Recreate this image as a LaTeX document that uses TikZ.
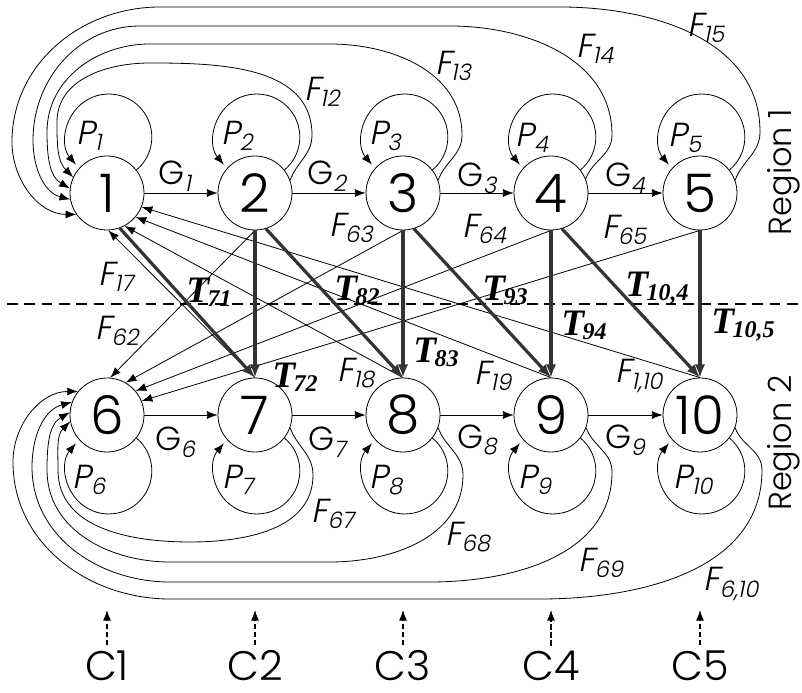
\documentclass[tikz,border=0pt]{standalone}
\usepackage{fontspec}
\usepackage{tikz}
\usetikzlibrary{arrows.meta}
\newfontfamily\numfont{Poppins Light}
\newfontfamily\labfont[FakeSlant=0.2]{Poppins Light}
\newfontfamily\tfont{Liberation Serif}

% labels: letter with a lowered, smaller index
\newcommand{\flab}[2]{{\labfont\fontsize{25}{25}\selectfont #1\kern-0.5pt\raisebox{-5pt}{\fontsize{17}{17}\selectfont #2}}}
\newcommand{\glab}[1]{{\numfont\fontsize{25}{25}\selectfont G\kern-0.5pt\raisebox{-5pt}{\labfont\fontsize{17}{17}\selectfont #1}}}
\newcommand{\tlab}[1]{{\tfont\bfseries\itshape\fontsize{28}{28}\selectfont T\kern-1pt\raisebox{-3pt}{\fontsize{18}{18}\selectfont #1}}}

\tikzset{
  state/.style={circle, draw, line width=0.6pt, minimum size=55.5pt, inner sep=0pt,
    font=\numfont\fontsize{40}{40}\selectfont},
  farrow/.style={line width=0.6pt, -{Latex[length=8pt,width=6pt]}},
  tarrow/.style={line width=2.4pt, draw=black!80, -{Latex[length=10pt,width=8pt]}},
  carrow/.style={line width=0.8pt, dash pattern=on 4pt off 2pt, -{Latex[length=8pt,width=6pt]}},
  divider/.style={line width=1.5pt, dash pattern=on 8pt off 5pt},
  cfont/.style={inner sep=1pt, font=\numfont\fontsize{31}{31}\selectfont},
  rfont/.style={font=\numfont\fontsize{24}{24}\selectfont, rotate=90}
}

\begin{document}
\begin{tikzpicture}[x=0.75pt, y=0.75pt]
    \useasboundingbox (0,0) rectangle (802,692);

    % region 1
    \node[state] (n1) at (107,499) {1};
    \node[state] (n2) at (255,499) {2};
    \node[state] (n3) at (403,499) {3};
    \node[state] (n4) at (551,499) {4};
    \node[state] (n5) at (700,499) {5};
    % region 2
    \node[state] (n6) at (107,277) {6};
    \node[state] (n7) at (255,277) {7};
    \node[state] (n8) at (403,277) {8};
    \node[state] (n9) at (551,277) {9};
    \node[state] (n10) at (700,277) {10};

    \draw[divider] (7,388) -- (802,388);
    \node[rfont] (reg1) at (784,520) {Region 1};
    \node[rfont] (reg2) at (784,249) {Region 2};

    % chains
    \draw[farrow] (n1) -- (n2);
    \draw[farrow] (n2) -- (n3);
    \draw[farrow] (n3) -- (n4);
    \draw[farrow] (n4) -- (n5);
    \draw[farrow] (n6) -- (n7);
    \draw[farrow] (n7) -- (n8);
    \draw[farrow] (n8) -- (n9);
    \draw[farrow] (n9) -- (n10);
    \node (g1) at (175,516) {\glab{1}};
    \node (g2) at (327,516) {\glab{2}};
    \node (g3) at (477,514) {\glab{3}};
    \node (g4) at (625,514) {\glab{4}};
    \node (g6) at (175,250) {\glab{6}};
    \node (g7) at (327,250) {\glab{7}};
    \node (g8) at (477,252) {\glab{8}};
    \node (g9) at (625,252) {\glab{9}};

    % self loops
    \draw[farrow] (n1.38) arc (-50:220:32.25pt);
    \draw[farrow] (n2.38) arc (-50:220:32.25pt);
    \draw[farrow] (n3.38) arc (-50:220:32.25pt);
    \draw[farrow] (n4.38) arc (-50:220:32.25pt);
    \draw[farrow] (n5.38) arc (-50:220:32.25pt);
    \draw[farrow] (n6.-38) arc (50:-220:32.25pt);
    \draw[farrow] (n7.-38) arc (50:-220:32.25pt);
    \draw[farrow] (n8.-38) arc (50:-220:32.25pt);
    \draw[farrow] (n9.-38) arc (50:-220:32.25pt);
    \draw[farrow] (n10.-38) arc (50:-220:32.25pt);
    \node (p1) at (89,556) {\flab{P}{1}};
    \node (p2) at (237,556) {\flab{P}{2}};
    \node (p3) at (385,556) {\flab{P}{3}};
    \node (p4) at (532,554) {\flab{P}{4}};
    \node (p5) at (685,554) {\flab{P}{5}};
    \node (p6) at (89,212) {\flab{P}{6}};
    \node (p7) at (238,212) {\flab{P}{7}};
    \node (p8) at (386,212) {\flab{P}{8}};
    \node (p9) at (535,212) {\flab{P}{9}};
    \node (p10) at (693,212) {\flab{P}{10}};

    % feedback to 1
    \draw[farrow] (n2.20) to[out=70,in=-90] (312,557) to[out=90,in=0] (150,629)
        to[out=180,in=90] (57,570) to[out=-90,in=135] (n1.155);
    \draw[farrow] (n3.20) to[out=70,in=-90] (462,557) to[out=90,in=0] (330,648) -- (150,648)
        to[out=180,in=90] (47,560) to[out=-90,in=150] (n1.173);
    \draw[farrow] (n4.22) to[out=70,in=-90] (612,557) to[out=90,in=0] (450,666) -- (140,666)
        to[out=180,in=90] (33,552) to[out=-90,in=165] (n1.190);
    \draw[farrow] (n5.20) to[out=70,in=-90] (760,560) to[out=90,in=0] (560,685) -- (160,685)
        to[out=180,in=90] (12,550) to[out=-90,in=180] (n1.215);
    \node (f12) at (322,600) {\flab{F}{12}};
    \node (f13) at (453,626) {\flab{F}{13}};
    \node (f14) at (595,643) {\flab{F}{14}};
    \node (f15) at (706,664) {\flab{F}{15}};

    % feedback to 6
    \draw[farrow] (n7.-20) to[out=-70,in=90] (313,217) to[out=-90,in=0] (190,150)
        to[out=180,in=-90] (58,222) to[out=90,in=-135] (n6.190);
    \draw[farrow] (n8.-20) to[out=-70,in=90] (463,217) to[out=-90,in=0] (330,130) -- (170,130)
        to[out=180,in=-90] (47,222) to[out=90,in=-150] (n6.176);
    \draw[farrow] (n9.-20) to[out=-70,in=90] (612,220) to[out=-90,in=0] (430,110) -- (170,110)
        to[out=180,in=-90] (32,225) to[out=90,in=-165] (n6.160);
    \draw[farrow] (n10.-20) to[out=-70,in=90] (762,222) to[out=-90,in=0] (540,93) -- (170,93)
        to[out=180,in=-90] (13,230) to[out=90,in=180] (n6.141);
    \node (f67) at (333,178) {\flab{F}{67}};
    \node (f68) at (468,155) {\flab{F}{68}};
    \node (f69) at (601,129) {\flab{F}{69}};
    \node (f610) at (731,108) {\flab{F}{6,10}};

    % between the regions
    \draw[farrow] (n2.south) -- (n6.85);
    \draw[farrow] (n3.south) -- (n6.60);
    \draw[farrow] (n4.south) -- (n6.40);
    \draw[farrow] (n5.south) -- (n6.22);
    \draw[farrow] (n7.north) -- (n1.-88);
    \draw[farrow] (n8.north) -- (n1.-62);
    \draw[farrow] (n9.north) -- (n1.-40);
    \draw[farrow] (n10.north) -- (n1.-22);

    \draw[tarrow] (n1.-70) -- (n7.north);
    \draw[tarrow] (n2.south) -- (n7.north);
    \draw[tarrow] (n2.-73) -- (n8.north);
    \draw[tarrow] (n3.south) -- (n8.north);
    \draw[tarrow] (n3.-73) -- (n9.north);
    \draw[tarrow] (n4.south) -- (n9.north);
    \draw[tarrow] (n4.-73) -- (n10.north);
    \draw[tarrow] (n5.south) -- (n10.north);

    \node (f62) at (117,361) {\flab{F}{62}};
    \node (f63) at (351,464) {\flab{F}{63}};
    \node (f64) at (484,463) {\flab{F}{64}};
    \node (f65) at (624,462) {\flab{F}{65}};
    \node (f17) at (116,415) {\flab{F}{17}};
    \node (f18) at (356,319) {\flab{F}{18}};
    \node (f19) at (493,316) {\flab{F}{19}};
    \node (f110) at (639,316) {\flab{F}{1,10}};
    \node (t71) at (209,400) {\tlab{71}};
    \node (t72) at (295,315) {\tlab{72}};
    \node (t82) at (357,402) {\tlab{82}};
    \node (t83) at (436,340) {\tlab{83}};
    \node (t93) at (505,402) {\tlab{93}};
    \node (t94) at (584,367) {\tlab{94}};
    \node (t104) at (657,404) {\tlab{10,4}};
    \node (t105) at (743,367) {\tlab{10,5}};

    % columns
    \node[cfont] (c1) at (107,26) {C1};
    \node[cfont] (c2) at (255,26) {C2};
    \node[cfont] (c3) at (403,26) {C3};
    \node[cfont] (c4) at (551,26) {C4};
    \node[cfont] (c5) at (700,26) {C5};
    \coordinate (a1) at (107,82);
    \coordinate (a2) at (255,82);
    \coordinate (a3) at (403,82);
    \coordinate (a4) at (551,82);
    \coordinate (a5) at (700,82);
    \draw[carrow, shorten <=3pt] (c1) -- (a1);
    \draw[carrow, shorten <=3pt] (c2) -- (a2);
    \draw[carrow, shorten <=3pt] (c3) -- (a3);
    \draw[carrow, shorten <=3pt] (c4) -- (a4);
    \draw[carrow, shorten <=3pt] (c5) -- (a5);
\end{tikzpicture}
\end{document}
